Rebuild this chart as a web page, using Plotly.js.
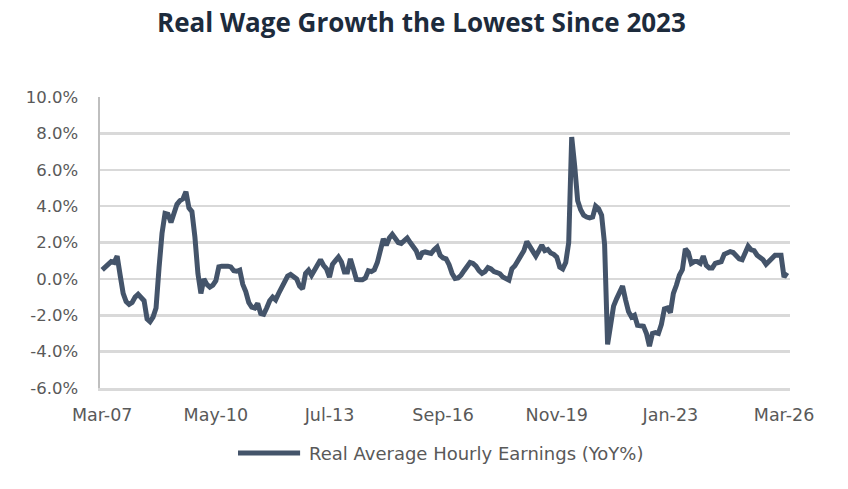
<!DOCTYPE html>
<html>
<head>
<meta charset="utf-8">
<script src="https://cdn.plot.ly/plotly-3.0.1.min.js"></script>
<style>
  html, body { margin: 0; padding: 0; background: #ffffff; }
  #chart { width: 848px; height: 489px; }
</style>
</head>
<body>
<div id="chart"></div>
<script>
// Monthly series, March 2007 onward (one value per month), in percent
const seriesName = 'Real Average Hourly Earnings (YoY%)';
const startYear = 2007;
const startMonth = 3; // March

const wageGrowth = [
  0.5, 0.65, 0.85, 0.95, 0.9, 1.25, 0.2, -0.8, -1.25, -1.4,
  -1.3, -1.0, -0.85, -1.05, -1.2, -2.2, -2.35, -2.1, -1.6, 0.6,
  2.5, 3.6, 3.55, 3.1, 3.6, 4.1, 4.3, 4.4, 4.8, 3.9,
  3.7, 2.3, 0.3, -0.8, 0.0, -0.3, -0.45, -0.35, -0.1, 0.66,
  0.7, 0.72, 0.7, 0.66, 0.45, 0.42, 0.48, -0.3, -0.7, -1.3,
  -1.55, -1.6, -1.35, -1.9, -1.95, -1.6, -1.2, -1.0, -1.15, -0.8,
  -0.5, -0.1, 0.15, 0.24, 0.15, 0.0, -0.4, -0.55, 0.3, 0.48,
  0.2, 0.45, 0.75, 1.05, 0.75, 0.55, 0.1, 0.8, 1.0, 1.2,
  0.93, 0.38, 0.38, 1.1, 0.55, -0.03, -0.05, -0.05, 0.05, 0.45,
  0.4, 0.5, 0.9, 1.6, 2.2, 1.85, 2.25, 2.45, 2.2, 2.0,
  1.95, 2.1, 2.25, 2.0, 1.8, 1.55, 1.1, 1.43, 1.48, 1.45,
  1.4, 1.6, 1.75, 1.3, 1.15, 1.1, 0.78, 0.3, 0.02, 0.05,
  0.2, 0.45, 0.65, 0.9, 0.85, 0.7, 0.45, 0.3, 0.4, 0.62,
  0.55, 0.4, 0.35, 0.28, 0.1, 0.0, -0.07, 0.55, 0.72, 1.0,
  1.3, 1.55, 2.05, 1.75, 1.45, 1.25, 1.55, 1.85, 1.55, 1.62,
  1.42, 1.35, 1.2, 0.65, 0.55, 0.9, 2.0, 7.8, 6.2, 4.3,
  3.8, 3.5, 3.4, 3.35, 3.4, 4.0, 3.85, 3.5, 1.9, -3.6,
  -2.55, -1.5, -1.1, -0.8, -0.4, -1.15, -1.8, -2.1, -2.0, -2.55,
  -2.55, -2.6, -3.0, -3.7, -3.0, -2.95, -3.0, -2.5, -1.65, -1.6,
  -1.85, -0.8, -0.35, 0.2, 0.5, 1.65, 1.45, 0.85, 0.95, 0.95,
  0.85, 1.25, 0.75, 0.6, 0.6, 0.85, 0.9, 0.95, 1.35, 1.45,
  1.5, 1.45, 1.25, 1.1, 1.05, 1.5, 1.8, 1.6, 1.55, 1.3,
  1.2, 1.05, 0.8, 1.0, 1.15, 1.3, 1.3, 1.3, 0.1, 0.35
];

// Axis labels: one every 38 months starting at the first month
const tickLabels = ['Mar-07', 'May-10', 'Jul-13', 'Sep-16', 'Nov-19', 'Jan-23', 'Mar-26'];
const tickStepMonths = 38;
const yTickValues = [-6, -4, -2, 0, 2, 4, 6, 8, 10];
const yTickLabels = yTickValues.map(v => v.toFixed(1) + '%');

const monthNames = ['Jan','Feb','Mar','Apr','May','Jun','Jul','Aug','Sep','Oct','Nov','Dec'];
const monthIndex = wageGrowth.map((_, i) => i);
const monthText = monthIndex.map(i => {
  const m = (startMonth - 1 + i) % 12;
  const y = startYear + Math.floor((startMonth - 1 + i) / 12);
  return monthNames[m] + '-' + String(y).slice(2);
});
const tickPositions = tickLabels.map((_, k) => k * tickStepMonths);

const lineColor = '#44546A';
const textGray = '#595959';
const baseFont = '"DejaVu Sans", "Liberation Sans", sans-serif';

const trace = {
  type: 'scatter',
  mode: 'lines',
  name: seriesName,
  x: monthIndex,
  y: wageGrowth,
  text: monthText,
  hovertemplate: '%{text}: %{y:.1f}%<extra></extra>',
  line: { color: lineColor, width: 5, shape: 'linear' },
  showlegend: false
};

const layout = {
  width: 848,
  height: 489,
  margin: { l: 100, r: 58, t: 97, b: 101 },
  paper_bgcolor: '#ffffff',
  plot_bgcolor: '#ffffff',
  title: {
    text: '<b>Real Wage Growth the Lowest Since 2023</b>',
    font: { family: '"Open Sans", "DejaVu Sans", sans-serif', size: 26, color: '#1d2b3c' },
    x: 0.497, xref: 'container', xanchor: 'center',
    y: 0.953, yref: 'container', yanchor: 'middle'
  },
  xaxis: {
    range: [-0.74, 230.0],
    tickmode: 'array',
    tickvals: tickPositions,
    ticktext: tickLabels,
    ticks: '',
    showgrid: false,
    zeroline: false,
    showline: true,
    linecolor: '#d9d9d9',
    linewidth: 2.5,
    ticklabelstandoff: 9,
    tickfont: { family: baseFont, size: 17.5, color: textGray }
  },
  yaxis: {
    range: [-6, 10],
    tickmode: 'array',
    tickvals: yTickValues,
    ticktext: yTickLabels,
    ticks: '',
    showgrid: true,
    gridcolor: '#d9d9d9',
    gridwidth: 2.5,
    zeroline: false,
    showline: true,
    linecolor: '#bfbfbf',
    linewidth: 2.5,
    ticklabelstandoff: 16,
    tickfont: { family: baseFont, size: 16.5, color: textGray }
  },
  shapes: [{
    type: 'line', xref: 'paper', yref: 'paper',
    x0: 0.2, x1: 0.29, y0: -0.2234, y1: -0.2234,
    line: { color: lineColor, width: 5 }
  }],
  annotations: [{
    xref: 'paper', yref: 'paper',
    x: 0.3, y: -0.2234, xanchor: 'left', yanchor: 'middle',
    text: seriesName, showarrow: false,
    font: { family: baseFont, size: 18, color: textGray }
  }]
};

Plotly.newPlot('chart', [trace], layout, { staticPlot: true, displayModeBar: false });
</script>
</body>
</html>
